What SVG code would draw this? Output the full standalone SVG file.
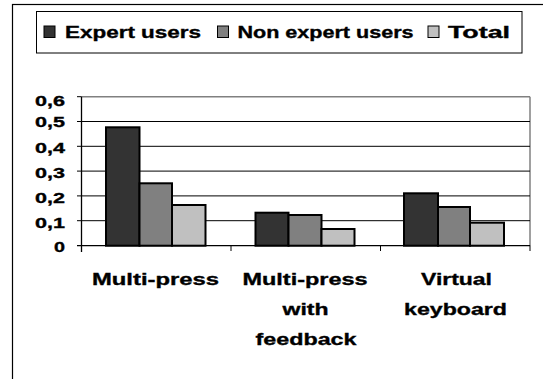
<svg xmlns="http://www.w3.org/2000/svg" width="543" height="379" viewBox="0 0 543 379">
<style>
text{font-family:"Liberation Sans",Arial,sans-serif;font-weight:bold;fill:#000;stroke:#000;stroke-width:0.35}
.lg{font-size:16.5px}
.ax{font-size:15.5px;text-anchor:end}
.cat{font-size:17px;text-anchor:middle}
.grid{stroke:#000;stroke-width:1}
.bar{stroke:#000;stroke-width:2}
.s1{fill:#333333}.s2{fill:#808080}.s3{fill:#c0c0c0}
</style>
<rect x="12.5" y="4.5" width="540" height="380" fill="#fff" stroke="#000" stroke-width="1.2"/>
<g id="legend">
<rect x="36.5" y="11.5" width="485.5" height="41.5" fill="#fff" stroke="#000" stroke-width="1"/>
<rect class="s1" x="44" y="26" width="11" height="11.5" stroke="#000" stroke-width="1"/>
<text class="lg" x="65" y="38" textLength="136" lengthAdjust="spacingAndGlyphs">Expert users</text>
<rect class="s2" x="217.5" y="26" width="11" height="11.5" stroke="#000" stroke-width="1"/>
<text class="lg" x="237.5" y="38" textLength="176" lengthAdjust="spacingAndGlyphs">Non expert users</text>
<rect class="s3" x="428" y="26" width="11" height="11.5" stroke="#000" stroke-width="1"/>
<text class="lg" x="448" y="38" textLength="62" lengthAdjust="spacingAndGlyphs">Total</text>
</g>
<g id="axes">
<line x1="81.5" y1="96.7" x2="530" y2="96.7" stroke="#808080" stroke-width="1.5"/>
<line x1="530" y1="96.7" x2="530" y2="246" stroke="#808080" stroke-width="1.5"/>
<line class="grid" x1="77" y1="121.5" x2="530" y2="121.5"/>
<line class="grid" x1="77" y1="146.3" x2="530" y2="146.3"/>
<line class="grid" x1="77" y1="171.1" x2="530" y2="171.1"/>
<line class="grid" x1="77" y1="195.9" x2="530" y2="195.9"/>
<line class="grid" x1="77" y1="220.7" x2="530" y2="220.7"/>
<line x1="77" y1="96.7" x2="81.5" y2="96.7" stroke="#000"/>
<line x1="77" y1="245.7" x2="530" y2="245.7" stroke="#000" stroke-width="1.3"/>
<line x1="81.5" y1="96.7" x2="81.5" y2="252" stroke="#000" stroke-width="1.3"/>
<line x1="231" y1="245.7" x2="231" y2="251" stroke="#000"/>
<line x1="380.5" y1="245.7" x2="380.5" y2="251" stroke="#000"/>
<line x1="530" y1="245.7" x2="530" y2="251" stroke="#000"/>
<text class="ax" x="65" y="106" textLength="30" lengthAdjust="spacingAndGlyphs">0,6</text>
<text class="ax" x="65" y="127" textLength="30" lengthAdjust="spacingAndGlyphs">0,5</text>
<text class="ax" x="65" y="152.5" textLength="30" lengthAdjust="spacingAndGlyphs">0,4</text>
<text class="ax" x="65" y="177.5" textLength="30" lengthAdjust="spacingAndGlyphs">0,3</text>
<text class="ax" x="65" y="203" textLength="30" lengthAdjust="spacingAndGlyphs">0,2</text>
<text class="ax" x="65" y="227.5" textLength="30" lengthAdjust="spacingAndGlyphs">0,1</text>
<text class="ax" x="65" y="251.5" textLength="11" lengthAdjust="spacingAndGlyphs">0</text>
</g>
<g id="bars-multipress">
<rect class="bar s1" x="106" y="127.3" width="33.5" height="118.4"/>
<rect class="bar s2" x="139.5" y="183.3" width="32.5" height="62.4"/>
<rect class="bar s3" x="172" y="205" width="33.5" height="40.7"/>
</g>
<g id="bars-feedback">
<rect class="bar s1" x="255.5" y="212.7" width="33" height="33"/>
<rect class="bar s2" x="288.5" y="215" width="33" height="30.7"/>
<rect class="bar s3" x="321.5" y="229" width="33" height="16.7"/>
</g>
<g id="bars-virtual">
<rect class="bar s1" x="404" y="193.3" width="34" height="52.4"/>
<rect class="bar s2" x="438" y="207" width="32" height="38.7"/>
<rect class="bar s3" x="470" y="222.7" width="34" height="23"/>
</g>
<g id="categories">
<text class="cat" x="155.5" y="285" textLength="127" lengthAdjust="spacingAndGlyphs">Multi-press</text>
<text class="cat" x="305" y="285" textLength="125" lengthAdjust="spacingAndGlyphs">Multi-press</text>
<text class="cat" x="305.5" y="315" textLength="46" lengthAdjust="spacingAndGlyphs">with</text>
<text class="cat" x="306" y="345" textLength="101" lengthAdjust="spacingAndGlyphs">feedback</text>
<text class="cat" x="456.5" y="285" textLength="71" lengthAdjust="spacingAndGlyphs">Virtual</text>
<text class="cat" x="455.5" y="315" textLength="103" lengthAdjust="spacingAndGlyphs">keyboard</text>
</g>
</svg>
